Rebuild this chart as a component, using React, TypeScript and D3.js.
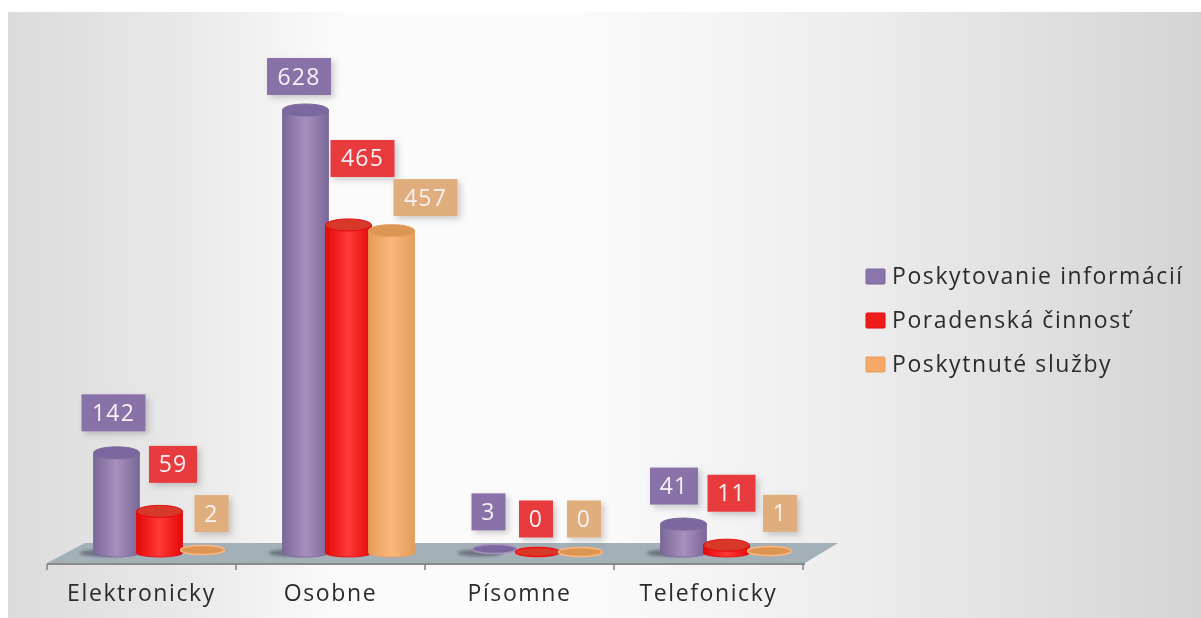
import * as d3 from "d3";

const categories = ["Elektronicky", "Osobne", "Písomne", "Telefonicky"];
const seriesNames = ["Poskytovanie informácií", "Poradenská činnosť", "Poskytnuté služby"];
const informacie = [142, 628, 3, 41];
const poradenstvo = [59, 465, 0, 11];
const sluzby = [2, 457, 0, 1];
const values = [informacie, poradenstvo, sluzby];

const width = 1201;
const height = 618;

const x0 = d3.scaleBand<string>().domain(categories).range([47, 803]);
const x1 = d3.scaleBand<string>().domain(seriesNames).range([48, 177]);
const y = d3.scaleLinear().domain([0, 628]).range([553, 110]);
const legendY = d3.scalePoint<string>().domain(seriesNames).range([276, 364]);

const rx = 23;
const ry = 6;

// label boxes were placed by hand in the original, offsets from the bar top
const labelOffsets = [
  [[-3, -40], [13.5, -47], [9, -38]],
  [[-6.5, -33.5], [14, -66.5], [34, -33]],
  [[-6, -39], [-1.5, -34], [3.5, -34]],
  [[-9.5, -38], [5, -52], [10.5, -39]],
];

const colors = [
  { id: "purple", edge: "#7a6799", mid: "#a890bd", top: "#7c68a0", box: "#8872a8", swatch: "#8a74aa" },
  { id: "red", edge: "#e40808", mid: "#ff3a3a", top: "#d8382c", box: "#e83a3e", swatch: "#f01c1c" },
  { id: "orange", edge: "#e49c58", mid: "#fbb77e", top: "#dd9552", box: "#e0ad7c", swatch: "#f6a868" },
];

const fontFamily = "'Open Sans', sans-serif";

function Cylinder({ cx, value, c }: { cx: number; value: number; c: (typeof colors)[number] }) {
  const top = y(value);
  const base = y(0);
  const flat = value < 5;
  const body = `M${cx - rx},${top} L${cx - rx},${base} A${rx},4 0 0 0 ${cx + rx},${base} L${cx + rx},${top} Z`;
  return (
    <g>
      <ellipse cx={cx - 14} cy={base} rx={rx} ry={3.5} fill="#4d5560" opacity={c.id === "purple" ? 0.65 : 0} filter="url(#soft)" />
      {flat ? (
        <ellipse cx={cx} cy={base - 1 - value} rx={rx - 1} ry={4.5} fill={c.top} stroke={c.id === "red" ? "#f01010" : c.mid} strokeWidth={1.5} />
      ) : (
        <>
          <path d={body} fill={`url(#${c.id})`} stroke={c.edge} strokeWidth={1} strokeOpacity={0.8} />
          <ellipse cx={cx} cy={top} rx={rx} ry={ry} fill={c.top} stroke={c.edge} strokeWidth={1} />
        </>
      )}
    </g>
  );
}

export default function App() {
  const floor = "M47,563 L85,543 L838,543 L805,563 Z";

  return (
    <svg width={width} height={height} style={{ position: "absolute", left: 0, top: 0 }}>
      <defs>
        <linearGradient id="bg" x1="0" x2="1" y1="0" y2="0">
          <stop offset="0" stopColor="#dbdbdb" />
          <stop offset="0.15" stopColor="#e9e9e9" />
          <stop offset="0.28" stopColor="#fbfbfb" />
          <stop offset="0.48" stopColor="#fbfbfb" />
          <stop offset="0.72" stopColor="#ececec" />
          <stop offset="1" stopColor="#d4d4d4" />
        </linearGradient>
        {colors.map((c) => (
          <linearGradient key={c.id} id={c.id} x1="0" x2="1" y1="0" y2="0">
            <stop offset="0" stopColor={c.edge} />
            <stop offset="0.5" stopColor={c.mid} />
            <stop offset="1" stopColor={c.edge} />
          </linearGradient>
        ))}
        <filter id="shadow" x="-30%" y="-30%" width="170%" height="170%">
          <feDropShadow dx="3" dy="3" stdDeviation="3" floodColor="#5a5a5a" floodOpacity="0.3" />
        </filter>
        <filter id="soft" x="-30%" y="-60%" width="160%" height="220%">
          <feGaussianBlur stdDeviation="1.5" />
        </filter>
        <filter id="blur">
          <feGaussianBlur stdDeviation="0.6" />
        </filter>
      </defs>

      <rect x={8} y={12} width={1193} height={606} fill="url(#bg)" />

      <g filter="url(#blur)">
        <path d={floor} fill="#a3b0b8" />
        <line x1={47} x2={805} y1={564} y2={564} stroke="#8a8a8a" strokeWidth={2} />
        {[...categories.map((d) => x0(d)!), x0.range()[1]].map((t) => (
          <line key={t} x1={t} x2={t} y1={564} y2={570} stroke="#808080" strokeWidth={1.5} />
        ))}

        {categories.map((cat, i) => (
          <g key={cat}>
            {seriesNames.map((s, j) => (
              <Cylinder key={s} cx={x0(cat)! + x1(s)! + x1.bandwidth() / 2} value={values[j][i]} c={colors[j]} />
            ))}
          </g>
        ))}

        {categories.map((cat, i) =>
          seriesNames.map((s, j) => {
            const label = String(values[j][i]);
            const boxW = label.length === 1 ? 34 : label.length === 2 ? 48 : 64;
            const cx = x0(cat)! + x1(s)! + x1.bandwidth() / 2 + labelOffsets[i][j][0];
            const cy = y(values[j][i]) + labelOffsets[i][j][1];
            return (
              <g key={cat + s}>
                <rect x={cx - boxW / 2} y={cy - 18.5} width={boxW} height={37} fill={colors[j].box} filter="url(#shadow)" />
                <text x={cx} y={cy + 8} textAnchor="middle" fontFamily={fontFamily} fontSize={23} letterSpacing={1.2} fill="#f6f1f4">
                  {label}
                </text>
              </g>
            );
          })
        )}

        {categories.map((cat) => (
          <text
            key={cat}
            x={x0(cat)! + x0.bandwidth() / 2}
            y={601}
            textAnchor="middle"
            fontFamily={fontFamily}
            fontSize={23}
            letterSpacing={1.6}
            fill="#2c2c2c"
          >
            {cat}
          </text>
        ))}

        {seriesNames.map((s, j) => (
          <g key={s} transform={`translate(866,${legendY(s)})`}>
            <rect x={0} y={-7} width={19} height={15} rx={1} fill={colors[j].swatch} stroke={colors[j].edge} strokeWidth={1} />
            <text x={26} y={8} fontFamily={fontFamily} fontSize={23} letterSpacing={1.6} fill="#2c2c2c">
              {s}
            </text>
          </g>
        ))}
      </g>
    </svg>
  );
}
